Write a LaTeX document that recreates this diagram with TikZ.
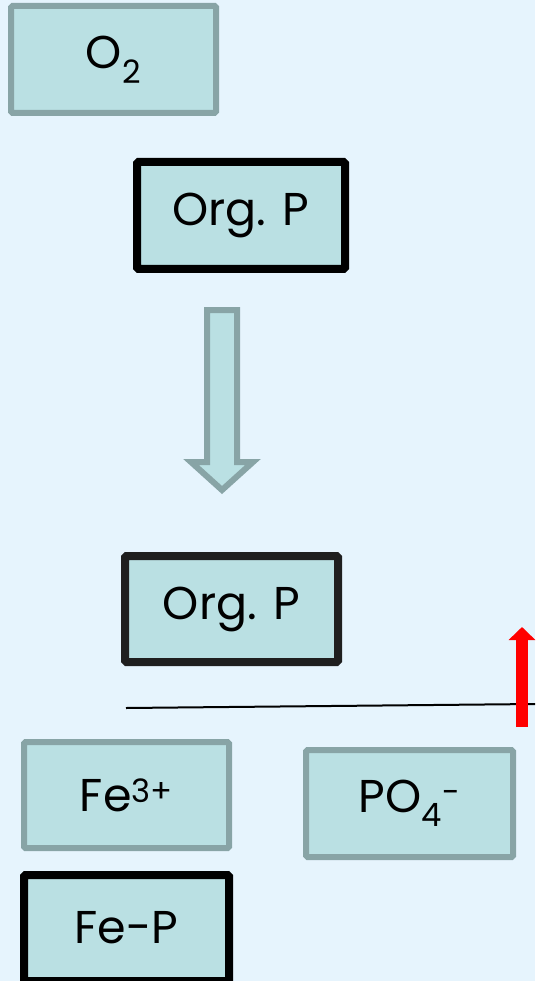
\documentclass[tikz,border=0pt]{standalone}
\usepackage{fontspec}
\setmainfont{Poppins}
\usetikzlibrary{arrows.meta, positioning}
\definecolor{fondbleu}{HTML}{E6F4FD}
\definecolor{boxfill}{HTML}{BAE0E3}
\definecolor{boxgray}{HTML}{88A4A6}
\tikzset{
  chemnode/.style = {align=center, inner sep=0pt, text centered, rectangle,
    rounded corners=1.5pt, fill=boxfill, font=\fontsize{46}{50}\selectfont},
  chem_g/.style = {chemnode, draw=boxgray, line width=6pt,
    minimum width=205pt, minimum height=107pt},% espece, cadre gris
  chem_n/.style = {chemnode, draw=black, line width=8pt,
    minimum width=208pt, minimum height=107pt},% espece, cadre noir
  flow_g/.style = {draw=boxgray, fill=boxfill, line width=6pt}% grosse fleche
}

\begin{document}
\begin{tikzpicture}[x=1pt, y=-1pt]
\fill[fondbleu] (0,0) rectangle (535,981);
\useasboundingbox (0,0) rectangle (535,981);

\node [chem_g] (o2) at (113.5,59.5) {O\textsubscript{2}};
\node [chem_n] (orgp_a) at (241,215.5) {Org. P};
\node [chem_n, draw=black!88, minimum width=213pt, minimum height=106pt]
  (orgp_b) at (231.5,609) {Org. P};
\node [chem_g, minimum height=106pt] (fe) at (126.5,795) {Fe\textsuperscript{3+}};
\node [chem_g, minimum width=207pt] (po4) at (409.5,803.5)
  {PO\textsubscript{4}\textsuperscript{-}};
\node [chem_n, minimum width=205pt, minimum height=106pt, below=20pt of fe]
  (fep) {Fe-P};

% transfer arrow
\draw [flow_g] (207,310) -- (237,310) -- (237,462) -- (253,462) -- (222,490)
  -- (191,462) -- (207,462) -- cycle;

% interface
\coordinate (if_l) at (126,708);
\coordinate (if_r) at (535,704);
\draw [line width=2pt] (if_l) -- (if_r);

% release
\coordinate (rel_bot) at (522,727);
\coordinate (rel_top) at (522,627);
\draw [red, line width=12pt, -{Triangle[length=13pt, width=26pt]}]
  (rel_bot) -- (rel_top);
\end{tikzpicture}
\end{document}
